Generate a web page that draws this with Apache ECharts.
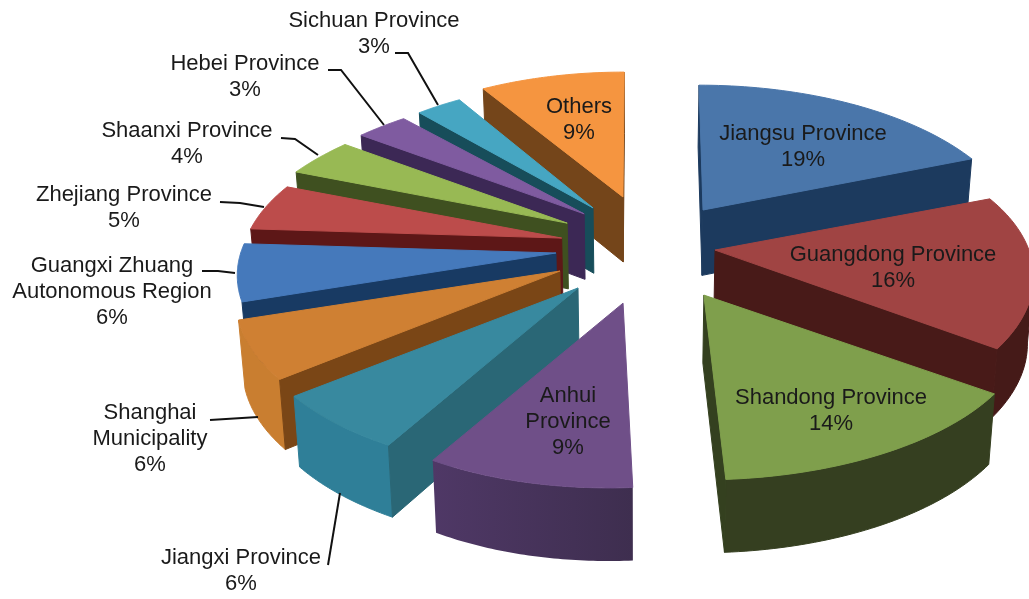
<!DOCTYPE html>
<html><head><meta charset="utf-8">
<style>html,body{margin:0;padding:0;background:#fff}#c{width:1029px;height:599px}</style>
<script src="https://cdn.jsdelivr.net/npm/echarts@6/dist/echarts.min.js"></script>
</head><body><div id="c"></div>
<script>
const names = ['Jiangsu Province','Guangdong Province','Shandong Province','Anhui\nProvince','Jiangxi Province','Shanghai\nMunicipality','Guangxi Zhuang\nAutonomous Region','Zhejiang Province','Shaanxi Province','Hebei Province','Sichuan Province','Others'];
const values = [19,16,14,9,6,6,6,5,4,3,3,9];
const explodeX = [0.355,0.206,0.301,0.29,0.292,0.285,0.283,0.288,0.315,0.30,0.323,0.333];
const explodeY = [0.32,0.316,0.325,0.33,0.326,0.342,0.47,0.19,0.318,0.345,0.353,0.39];
const widthScale = [0.973,0.981,1,0.96,1,0.99,0.985,0.985,1,1,0.9,0.955];
const skew = [0.032,-0.045,-0.016,-0.077,-0.025,-0.017,0.1,0.02,-0.13,-0.12,0.01,-0.01];
const topColors = ['#4a76aa','#a04443','#7f9f4c','#6f4f88','#38899f','#cf8033','#4579bb','#bc4c4b','#98b954','#7f5ba0','#46a6c2','#f59540'];
const radialColors = ['#1c3a5e','#481a18','#34401f','#3f2f50','#2a6776','#7a4616','#183a63','#5d1717','#3f5020','#3c2855','#174d5a','#74451a'];
const rimColors = ['#1c3a5e','#451a18','#353f20',['#4f3866','#3e2e4f'],'#2f7f98','#c97e30',null,'#8a2f2e','#5a7030','#4c3570','#2a7a90','#b06a28'];
const labelAt = [[803,147],[893,268],[831,411],[568,422],[241,571],[150,439],[112,292],[124,208],[187,144],[245,77],[374,34],[579,120]];
const leaders = [null,null,null,null,[[328,565],[340,493]],[[210,420],[258,417]],[[202,271],[218,271],[235,273]],[[220,202],[240,203],[264,207]],[[281,138],[295,139],[318,155]],[[328,70],[341,70],[384,125]],[[395,53],[408,53],[438,105]],null];

const total = values.reduce((a,b)=>a+b,0);
const C = [648,244], RX = 320, RY = 149, K = 0.1935;
const FONT = '22px "Liberation Sans", Arial, sans-serif';
const rad = d => d*Math.PI/180;
function v(a){const s=1/(1+K*Math.cos(a));return [RX*Math.sin(a)*s,-RY*Math.cos(a)*s];}
function depth(p){return 65+(p[1]-197)*0.028;}
function down(p){return [p[0]+(640-p[0])*0.016,p[1]+depth(p)];}
const cross=(o,a,b)=>(a[0]-o[0])*(b[1]-o[1])-(a[1]-o[1])*(b[0]-o[0]);
function faces(p,q,inner){return cross(p,q,[p[0],p[1]+10])*cross(p,q,inner)<0;}
function paint(c){
  if(Array.isArray(c))return {type:'linear',x:0,y:0,x2:1,y2:0,colorStops:[{offset:0,color:c[0]},{offset:1,color:c[1]}]};
  return c;
}
function renderItem(params){
  const i=params.dataIndex;
  let cum=0;for(let k=0;k<i;k++)cum+=values[k];
  const a0=rad(cum/total*360),a1=rad((cum+values[i])/total*360),mid=(a0+a1)/2;
  const e=v(mid),A=[C[0]+explodeX[i]*e[0],C[1]+explodeY[i]*e[1]];
  const steps=48,rim=[];
  for(let j=0;j<=steps;j++){
    const a=a0+(a1-a0)*j/steps,w=v(a);
    rim.push([A[0]+widthScale[i]*w[0]+skew[i]*w[1],A[1]+w[1]]);
  }
  const mc=rim[steps>>1],inner=[(A[0]*2+mc[0])/3,(A[1]*2+mc[1])/3];
  const z=Math.round((1-Math.cos(mid))*100);
  const kids=[];
  const poly=(pts,fill,zz)=>kids.push({type:'polygon',shape:{points:pts},style:{fill:paint(fill),stroke:Array.isArray(fill)?null:fill,lineWidth:1},z2:z+zz});
  [rim[0],rim[steps]].forEach(P=>{
    if(faces(A,P,inner))poly([A,P,down(P),down(A)],radialColors[i],1);
  });
  if(rimColors[i]){
    let run=[];
    const flush=()=>{if(run.length>1)poly(run.concat(run.slice().reverse().map(down)),rimColors[i],0);run=[];};
    for(let j=0;j<steps;j++){
      if(faces(rim[j],rim[j+1],A)){if(!run.length)run.push(rim[j]);run.push(rim[j+1]);}else flush();
    }
    flush();
  }
  poly([A].concat(rim),topColors[i],2);
  return {type:'group',children:kids};
}
function renderLabel(params){
  const i=params.dataIndex,kids=[];
  if(leaders[i])kids.push({type:'polyline',shape:{points:leaders[i]},style:{stroke:'#111',lineWidth:2,fill:null},z2:900});
  kids.push({type:'text',z2:1000,style:{text:names[i]+'\n'+values[i]+'%',x:labelAt[i][0],y:labelAt[i][1],align:'center',verticalAlign:'middle',font:FONT,lineHeight:26,fill:'#1a1a1a'}});
  return {type:'group',children:kids};
}
const chart=echarts.init(document.getElementById('c'),null,{renderer:'canvas'});
chart.setOption({
  animation:false,backgroundColor:'#fff',
  series:[
    {type:'custom',coordinateSystem:'none',renderItem,data:values,silent:true},
    {type:'custom',coordinateSystem:'none',renderItem:renderLabel,data:values,silent:true,z:5}
  ]
});
</script></body></html>
